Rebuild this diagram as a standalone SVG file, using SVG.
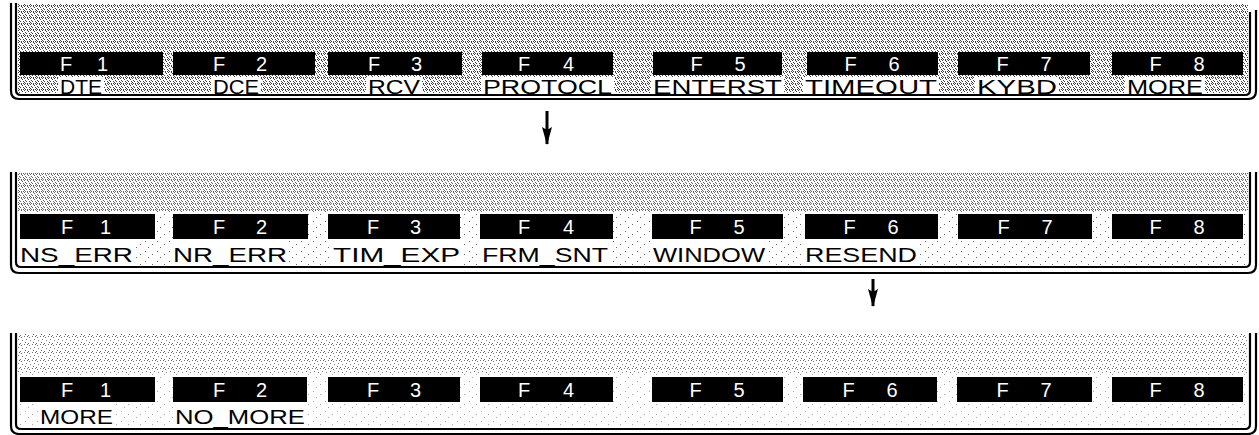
<svg xmlns="http://www.w3.org/2000/svg" width="1259" height="435" viewBox="0 0 1259 435">
<style>
.frame{fill:none;stroke:#000;stroke-width:2.2}
.key{fill:#000}
.kt{font-family:"Liberation Sans",Arial,sans-serif;font-size:20px;fill:#fff;text-anchor:middle}
.lb{font-family:"Liberation Sans",Arial,sans-serif;font-size:20px;fill:#000}
.conn{stroke:#000;stroke-width:3;fill:none}
</style>
<defs>
<pattern id="dense" width="6" height="6" patternUnits="userSpaceOnUse">
<path d="M0 0h1v1h-1zM3 0h1v1h-1zM4 1h1v1h-1zM1 2h1v1h-1zM2 3h1v1h-1zM5 3h1v1h-1zM0 4h1v1h-1zM3 5h1v1h-1zM5 5h1v1h-1zM1 5h1v1h-1z" fill="#000" shape-rendering="crispEdges"/>
</pattern>
<pattern id="medium" width="8" height="8" patternUnits="userSpaceOnUse">
<path d="M0 0h1v1h-1zM5 1h1v1h-1zM2 3h1v1h-1zM6 4h1v1h-1zM1 6h1v1h-1zM4 7h1v1h-1zM3 0h1v1h-1z" fill="#000" shape-rendering="crispEdges"/>
</pattern>
<pattern id="sparse" width="12" height="10" patternUnits="userSpaceOnUse">
<path d="M1 1h1v1h-1zM8 4h1v1h-1zM4 7h1v1h-1z" fill="#000" shape-rendering="crispEdges"/>
</pattern>
<marker id="ah" viewBox="0 0 18 10" refX="17" refY="5" markerWidth="18" markerHeight="10" markerUnits="userSpaceOnUse" orient="auto">
<path d="M0 0L18 5L0 10L3 5z" fill="#000"/>
</marker>
</defs>
<rect width="1259" height="435" fill="#fff"/>

<g id="panel1">
<rect x="18" y="4" width="1230" height="89" fill="url(#dense)" opacity="0.75"/>
<g fill="#fff">
<rect x="58" y="77" width="46" height="17"/><rect x="211" y="77" width="50" height="17"/><rect x="366" y="77" width="56" height="17"/><rect x="481" y="77" width="133" height="17"/><rect x="651" y="77" width="133" height="17"/><rect x="803" y="77" width="136" height="17"/><rect x="975" y="77" width="84" height="17"/><rect x="1125" y="77" width="80" height="17"/>
</g>
<path class="frame" d="M11 3V91Q11 99 19 99H1248Q1256 99 1256 91V10"/>
<path class="frame" d="M16 3V90Q16 95 21 95H1245Q1250 95 1250 90V12"/>
<g id="p1-f1"><rect class="key" x="20" y="52" width="143" height="23"/><text class="kt" x="84" y="71" textLength="48" lengthAdjust="spacing">F 1</text><text class="lb" x="60" y="94" textLength="42" lengthAdjust="spacingAndGlyphs">DTE</text></g>
<g id="p1-f2"><rect class="key" x="173" y="52" width="142" height="23"/><text class="kt" x="240" y="71" textLength="54" lengthAdjust="spacing">F 2</text><text class="lb" x="213" y="94" textLength="46" lengthAdjust="spacingAndGlyphs">DCE</text></g>
<g id="p1-f3"><rect class="key" x="328" y="52" width="134" height="23"/><text class="kt" x="395" y="71" textLength="54" lengthAdjust="spacing">F 3</text><text class="lb" x="368" y="94" textLength="52" lengthAdjust="spacingAndGlyphs">RCV</text></g>
<g id="p1-f4"><rect class="key" x="482" y="52" width="131" height="23"/><text class="kt" x="546" y="71" textLength="56" lengthAdjust="spacing">F 4</text><text class="lb" x="483" y="94" textLength="129" lengthAdjust="spacingAndGlyphs">PROTOCL</text></g>
<g id="p1-f5"><rect class="key" x="653" y="52" width="129" height="23"/><text class="kt" x="718" y="71" textLength="55" lengthAdjust="spacing">F 5</text><text class="lb" x="653" y="94" textLength="129" lengthAdjust="spacingAndGlyphs">ENTERST</text></g>
<g id="p1-f6"><rect class="key" x="807" y="52" width="131" height="23"/><text class="kt" x="872" y="71" textLength="55" lengthAdjust="spacing">F 6</text><text class="lb" x="805" y="94" textLength="132" lengthAdjust="spacingAndGlyphs">TIMEOUT</text></g>
<g id="p1-f7"><rect class="key" x="958" y="52" width="132" height="23"/><text class="kt" x="1024" y="71" textLength="55" lengthAdjust="spacing">F 7</text><text class="lb" x="977" y="94" textLength="80" lengthAdjust="spacingAndGlyphs">KYBD</text></g>
<g id="p1-f8"><rect class="key" x="1112" y="52" width="131" height="23"/><text class="kt" x="1177" y="71" textLength="55" lengthAdjust="spacing">F 8</text><text class="lb" x="1127" y="94" textLength="76" lengthAdjust="spacingAndGlyphs">MORE</text></g>
</g>

<g id="panel2">
<rect x="18" y="173" width="1230" height="38" fill="url(#dense)" opacity="0.6"/>
<rect x="18" y="211" width="1230" height="54" fill="url(#sparse)" opacity="0.6"/>
<path class="frame" d="M11 172V265Q11 273 19 273H1248Q1256 273 1256 265V172"/>
<path class="frame" d="M16 172V262Q16 267 21 267H1245Q1250 267 1250 262V172"/>
<g fill="#fff"><rect x="18" y="241" width="118" height="24"/><rect x="171" y="241" width="118" height="24"/><rect x="331" y="241" width="131" height="24"/><rect x="480" y="241" width="130" height="24"/><rect x="651" y="241" width="116" height="24"/><rect x="803" y="241" width="116" height="24"/></g>
<g id="p2-f1"><rect class="key" x="20" y="214" width="135" height="25"/><text class="kt" x="86" y="234" textLength="50" lengthAdjust="spacing">F 1</text><text class="lb" x="20" y="262" textLength="113" lengthAdjust="spacingAndGlyphs">NS_ERR</text></g>
<g id="p2-f2"><rect class="key" x="173" y="214" width="135" height="25"/><text class="kt" x="240" y="234" textLength="54" lengthAdjust="spacing">F 2</text><text class="lb" x="173" y="262" textLength="114" lengthAdjust="spacingAndGlyphs">NR_ERR</text></g>
<g id="p2-f3"><rect class="key" x="328" y="214" width="132" height="25"/><text class="kt" x="394" y="234" textLength="54" lengthAdjust="spacing">F 3</text><text class="lb" x="333" y="262" textLength="127" lengthAdjust="spacingAndGlyphs">TIM_EXP</text></g>
<g id="p2-f4"><rect class="key" x="480" y="214" width="133" height="25"/><text class="kt" x="546" y="234" textLength="56" lengthAdjust="spacing">F 4</text><text class="lb" x="482" y="262" textLength="126" lengthAdjust="spacingAndGlyphs">FRM_SNT</text></g>
<g id="p2-f5"><rect class="key" x="652" y="214" width="131" height="25"/><text class="kt" x="717" y="234" textLength="55" lengthAdjust="spacing">F 5</text><text class="lb" x="653" y="262" textLength="112" lengthAdjust="spacingAndGlyphs">WINDOW</text></g>
<g id="p2-f6"><rect class="key" x="805" y="214" width="133" height="25"/><text class="kt" x="871" y="234" textLength="55" lengthAdjust="spacing">F 6</text><text class="lb" x="805" y="262" textLength="112" lengthAdjust="spacingAndGlyphs">RESEND</text></g>
<g id="p2-f7"><rect class="key" x="958" y="214" width="134" height="25"/><text class="kt" x="1025" y="234" textLength="55" lengthAdjust="spacing">F 7</text></g>
<g id="p2-f8"><rect class="key" x="1112" y="214" width="131" height="25"/><text class="kt" x="1177" y="234" textLength="55" lengthAdjust="spacing">F 8</text></g>
</g>

<g id="panel3">
<rect x="18" y="334" width="1230" height="40" fill="url(#medium)" opacity="0.55"/>
<rect x="18" y="374" width="1230" height="53" fill="url(#sparse)" opacity="0.35"/>
<path class="frame" d="M11 333V426Q11 434 19 434H1248Q1256 434 1256 426V333"/>
<path class="frame" d="M16 333V424Q16 429 21 429H1245Q1250 429 1250 424V333"/>
<g fill="#fff"><rect x="38" y="403" width="78" height="24"/><rect x="173" y="403" width="134" height="24"/></g>
<g id="p3-f1"><rect class="key" x="20" y="377" width="135" height="25"/><text class="kt" x="86" y="397" textLength="50" lengthAdjust="spacing">F 1</text><text class="lb" x="40" y="424" textLength="73" lengthAdjust="spacingAndGlyphs">MORE</text></g>
<g id="p3-f2"><rect class="key" x="173" y="377" width="134" height="25"/><text class="kt" x="240" y="397" textLength="54" lengthAdjust="spacing">F 2</text><text class="lb" x="175" y="424" textLength="130" lengthAdjust="spacingAndGlyphs">NO_MORE</text></g>
<g id="p3-f3"><rect class="key" x="328" y="377" width="132" height="25"/><text class="kt" x="394" y="397" textLength="54" lengthAdjust="spacing">F 3</text></g>
<g id="p3-f4"><rect class="key" x="480" y="377" width="133" height="25"/><text class="kt" x="546" y="397" textLength="56" lengthAdjust="spacing">F 4</text></g>
<g id="p3-f5"><rect class="key" x="652" y="377" width="131" height="25"/><text class="kt" x="717" y="397" textLength="55" lengthAdjust="spacing">F 5</text></g>
<g id="p3-f6"><rect class="key" x="803" y="377" width="134" height="25"/><text class="kt" x="870" y="397" textLength="55" lengthAdjust="spacing">F 6</text></g>
<g id="p3-f7"><rect class="key" x="957" y="377" width="135" height="25"/><text class="kt" x="1024" y="397" textLength="55" lengthAdjust="spacing">F 7</text></g>
<g id="p3-f8"><rect class="key" x="1112" y="377" width="131" height="25"/><text class="kt" x="1177" y="397" textLength="55" lengthAdjust="spacing">F 8</text></g>
</g>

<g id="connectors">
<line class="conn" x1="547" y1="111" x2="547" y2="144" marker-end="url(#ah)"/>
<line class="conn" x1="873" y1="279" x2="873" y2="306" marker-end="url(#ah)"/>
</g>
</svg>
